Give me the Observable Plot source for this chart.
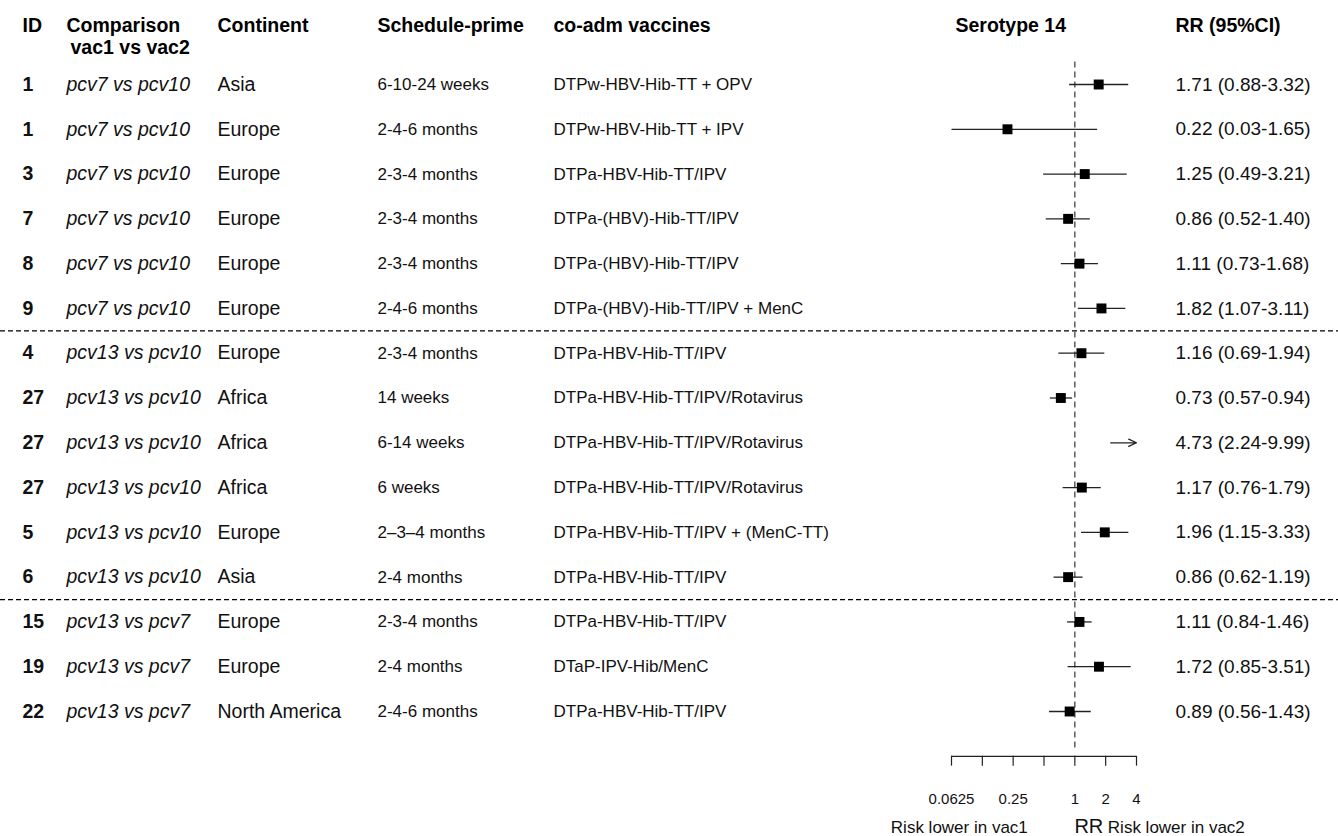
<!DOCTYPE html>
<html>
<head>
<meta charset="utf-8">
<script src="https://cdn.jsdelivr.net/npm/d3@7"></script>
<script src="https://cdn.jsdelivr.net/npm/@observablehq/plot@0.6"></script>
<style>
  html, body { margin: 0; padding: 0; background: #fff; }
  #chart svg { display: block; }
</style>
</head>
<body>
<div id="chart"></div>
<script>
// ---- data ----
const ids = [1, 1, 3, 7, 8, 9, 4, 27, 27, 27, 5, 6, 15, 19, 22];
const comparisons = [
  "pcv7 vs pcv10", "pcv7 vs pcv10", "pcv7 vs pcv10", "pcv7 vs pcv10", "pcv7 vs pcv10", "pcv7 vs pcv10",
  "pcv13 vs pcv10", "pcv13 vs pcv10", "pcv13 vs pcv10", "pcv13 vs pcv10", "pcv13 vs pcv10", "pcv13 vs pcv10",
  "pcv13 vs pcv7", "pcv13 vs pcv7", "pcv13 vs pcv7"
];
const continents = ["Asia", "Europe", "Europe", "Europe", "Europe", "Europe", "Europe", "Africa", "Africa", "Africa", "Europe", "Asia", "Europe", "Europe", "North America"];
const schedules = ["6-10-24 weeks", "2-4-6 months", "2-3-4 months", "2-3-4 months", "2-3-4 months", "2-4-6 months", "2-3-4 months", "14 weeks", "6-14 weeks", "6 weeks", "2\u20133\u20134 months", "2-4 months", "2-3-4 months", "2-4 months", "2-4-6 months"];
const coadm = [
  "DTPw-HBV-Hib-TT + OPV", "DTPw-HBV-Hib-TT + IPV", "DTPa-HBV-Hib-TT/IPV", "DTPa-(HBV)-Hib-TT/IPV",
  "DTPa-(HBV)-Hib-TT/IPV", "DTPa-(HBV)-Hib-TT/IPV + MenC", "DTPa-HBV-Hib-TT/IPV",
  "DTPa-HBV-Hib-TT/IPV/Rotavirus", "DTPa-HBV-Hib-TT/IPV/Rotavirus", "DTPa-HBV-Hib-TT/IPV/Rotavirus",
  "DTPa-HBV-Hib-TT/IPV + (MenC-TT)", "DTPa-HBV-Hib-TT/IPV", "DTPa-HBV-Hib-TT/IPV", "DTaP-IPV-Hib/MenC", "DTPa-HBV-Hib-TT/IPV"
];
const rr = [1.71, 0.22, 1.25, 0.86, 1.11, 1.82, 1.16, 0.73, 4.73, 1.17, 1.96, 0.86, 1.11, 1.72, 0.89];
const lower = [0.88, 0.03, 0.49, 0.52, 0.73, 1.07, 0.69, 0.57, 2.24, 0.76, 1.15, 0.62, 0.84, 0.85, 0.56];
const upper = [3.32, 1.65, 3.21, 1.40, 1.68, 3.11, 1.94, 0.94, 9.99, 1.79, 3.33, 1.19, 1.46, 3.51, 1.43];
const axisTicks = [0.0625, 0.125, 0.25, 0.5, 1, 2, 4];
const axisTickLabels = [0.0625, 0.25, 1, 2, 4];
const headers = ["ID", "Comparison", "Continent", "Schedule-prime", "co-adm vaccines", "Serotype 14", "RR (95%CI)"];

// ---- table ----
const xMin = axisTicks[0], xMax = axisTicks[axisTicks.length - 1];
const rows = ids.map((id, i) => ({
  pos: i + 1,
  id: String(id),
  comparison: comparisons[i],
  continent: continents[i],
  schedule: schedules[i],
  coadm: coadm[i],
  rr: rr[i], lo: lower[i], hi: upper[i],
  label: `${rr[i].toFixed(2)} (${lower[i].toFixed(2)}-${upper[i].toFixed(2)})`
}));
const inRange = rows.filter(d => d.rr >= xMin && d.rr <= xMax);
const whiskers = rows.filter(d => d.lo < xMax).map(d => ({...d, x1: Math.max(d.lo, xMin), x2: Math.min(d.hi, xMax)}));
const normalWhiskers = whiskers.filter(d => d.hi <= xMax);
const arrowWhiskers = rows.filter(d => d.hi > xMax && d.rr > xMax).map(d => ({...d, x1: Math.max(d.lo, xMin), x2: xMax}));
const clippedWhiskers = whiskers.filter(d => d.hi > xMax && d.rr <= xMax);
const separators = rows.filter((d, i) => i > 0 && rows[i - 1].comparison !== d.comparison).map(d => d.pos - 0.5);
const axisPos = rows.length + 1;

const FONT = "'Liberation Sans', Arial, Helvetica, sans-serif";
const cols = [
  {field: "id", dx: 22, size: 19.5, weight: "bold", style: "normal"},
  {field: "comparison", dx: 66, size: 19.5, weight: "normal", style: "italic"},
  {field: "continent", dx: 217, size: 19.5, weight: "normal", style: "normal"},
  {field: "schedule", dx: 377, size: 17, weight: "normal", style: "normal"},
  {field: "coadm", dx: 553, size: 17, weight: "normal", style: "normal"},
  {field: "label", dx: 1175, size: 19, weight: "normal", style: "normal"}
];
const headerPos = [22, 66, 217, 377, 553, 955, 1175];

const marks = [];
// separators
marks.push(Plot.ruleY(separators, {stroke: "#000", strokeWidth: 1.2, strokeDasharray: "5,3"}));
// reference line at RR = 1
marks.push(Plot.ruleX([1], {y1: 0.5, y2: axisPos - 0.1, stroke: "#444", strokeWidth: 1.3, strokeDasharray: "6,4"}));
// headers
headers.forEach((h, i) => {
  marks.push(Plot.text([h], {frameAnchor: "top-left", lineAnchor: "middle", dx: headerPos[i], dy: 25, textAnchor: "start", fontSize: 19.5, fontWeight: "bold", fill: "#000"}));
});
marks.push(Plot.text(["vac1 vs vac2"], {frameAnchor: "top-left", lineAnchor: "middle", dx: 70, dy: 47, textAnchor: "start", fontSize: 19.5, fontWeight: "bold", fill: "#000"}));
// table columns
cols.forEach(c => {
  marks.push(Plot.text(rows, {y: "pos", text: c.field, frameAnchor: "left", dx: c.dx, textAnchor: "start",
    fontSize: c.size, fontWeight: c.weight, fontStyle: c.style, fill: "#111"}));
});
// whiskers
marks.push(Plot.link(normalWhiskers.concat(clippedWhiskers), {x1: "x1", x2: "x2", y1: "pos", y2: "pos", stroke: "#222", strokeWidth: 1.3}));
marks.push(Plot.arrow(arrowWhiskers, {x1: "x1", x2: "x2", y1: "pos", y2: "pos", stroke: "#222", strokeWidth: 1.3, headLength: 10, headAngle: 50}));
// point estimates
marks.push(Plot.dot(inRange, {x: "rr", y: "pos", symbol: "square", r: 5.6, fill: "#000", stroke: "none"}));
// axis
marks.push(Plot.ruleY([axisPos], {x1: xMin, x2: xMax, stroke: "#222", strokeWidth: 1.2}));
marks.push(Plot.ruleX(axisTicks, {x: d => d, y1: axisPos, y2: axisPos + 0.22, stroke: "#222", strokeWidth: 1.2}));
marks.push(Plot.text(axisTickLabels, {x: d => d, y: axisPos, dy: 43, text: d => String(d), fontSize: 15, fill: "#111"}));
marks.push(Plot.text(["Risk lower in vac1"], {x: 1, y: axisPos, dx: -47, dy: 71, textAnchor: "end", fontSize: 17, fill: "#111"}));
marks.push(Plot.text(["RR"], {x: 1, y: axisPos, dx: 14, dy: 70, textAnchor: "middle", fontSize: 20, fill: "#111"}));
marks.push(Plot.text(["Risk lower in vac2"], {x: 1, y: axisPos, dx: 33, dy: 71, textAnchor: "start", fontSize: 17, fill: "#111"}));

const chart = Plot.plot({
  width: 1338,
  height: 836,
  margin: 0,
  style: {fontFamily: FONT, background: "#fff", color: "#000"},
  x: {type: "log", base: 2, domain: [xMin, xMax], range: [951, 1136], axis: null},
  y: {type: "linear", domain: [1, rows.length], range: [84, 711], axis: null},
  marks
});
document.getElementById("chart").appendChild(chart);
</script>
</body>
</html>
